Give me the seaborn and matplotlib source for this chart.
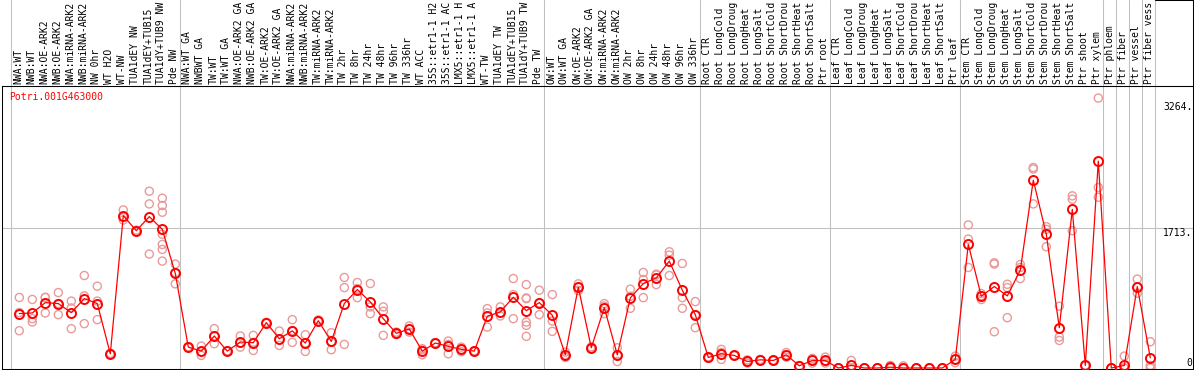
import pandas as pd
import seaborn as sns
import matplotlib.pyplot as plt
import matplotlib.transforms as mtransforms

sns.set_theme(style='white')
plt.rcParams['font.family'] = ['DejaVu Sans Mono', 'DejaVu Sans']

gene = 'Potri.001G463000'

# sample names as far as they are visible in the header
samples = [
    'NWA:WT', 'NWB:WT', 'NWA:OE-ARK2', 'NWB:OE-ARK2', 'NWA:miRNA-ARK2',
    'NWB:miRNA-ARK2', 'NW 0hr', 'WT H2O', 'WT-NW', 'TUA1dEY NW',
    'TUA1dEY+TUB15', 'TUA1dY+TUB9 NW', 'Pde NW',
    'NWA:WT GA', 'NWBWT GA', 'TW:WT', 'TW:WT GA', 'NWA:OE-ARK2 GA',
    'NWB:OE-ARK2 GA', 'TW:OE-ARK2', 'TW:OE-ARK2 GA', 'NWA:miRNA-ARK2',
    'NWB:miRNA-ARK2', 'TW:miRNA-ARK2', 'TW:miRNA-ARK2', 'TW 2hr', 'TW 8hr',
    'TW 24hr', 'TW 48hr', 'TW 96hr', 'TW 336hr', 'WT ACC', '35S::etr1-1 H2',
    '35S::etr1-1 AC', 'LMX5::etr1-1 H', 'LMX5::etr1-1 A', 'WT-TW',
    'TUA1dEY TW', 'TUA1dEY+TUB15', 'TUA1dY+TUB9 TW', 'Pde TW',
    'OW:WT', 'OW:WT GA', 'OW:OE-ARK2', 'OW:OE-ARK2 GA', 'OW:miRNA-ARK2',
    'OW:miRNA-ARK2', 'OW 2hr', 'OW 8hr', 'OW 24hr', 'OW 48hr', 'OW 96hr',
    'OW 336hr',
    'Root CTR', 'Root LongCold', 'Root LongDroug', 'Root LongHeat',
    'Root LongSalt', 'Root ShortCold', 'Root ShortDrou', 'Root ShortHeat',
    'Root ShortSalt', 'Ptr root',
    'Leaf CTR', 'Leaf LongCold', 'Leaf LongDroug', 'Leaf LongHeat',
    'Leaf LongSalt', 'Leaf ShortCold', 'Leaf ShortDrou', 'Leaf ShortHeat',
    'Leaf ShortSalt', 'Ptr leaf',
    'Stem CTR', 'Stem LongCold', 'Stem LongDroug', 'Stem LongHeat',
    'Stem LongSalt', 'Stem ShortCold', 'Stem ShortDrou', 'Stem ShortHeat',
    'Stem ShortSalt', 'Ptr shoot', 'Ptr xylem',
    'Ptr phloem', 'Ptr fiber', 'Ptr vessel', 'Ptr fiber vess',
]

# first sample index of every group (last entry = end)
group_starts = [0, 13, 41, 53, 63, 73, 84, 85, 86, 87, 88]

means = [
    667, 675, 802, 790, 679, 851, 790, 174, 1868, 1684, 1856, 1700, 1159,
    256, 207, 392, 207, 319, 310, 556, 359, 455, 306, 580, 326, 790, 962,
    810, 605, 425, 478, 207, 306, 265, 228, 207, 635, 687, 868, 703, 802,
    646, 162, 990, 248, 740, 162, 859, 1036, 1105, 1311, 954, 654,
    129, 174, 154, 80, 100, 92, 162, 27, 92, 92,
    0, 31, 0, 0, 10, 0, 0, 0, 0, 105,
    1516, 880, 999, 884, 1200, 2303, 1639, 494, 1946, 31, 2537,
    0, 31, 999, 125,
]

replicates = [
    [865, 680, 457], [840, 605, 564], [865, 866, 675], [925, 790, 654],
    [820, 736, 482], [1134, 884, 544], [1003, 820, 593], [180, 170, 172],
    [1938, 1815, 1850], [1684, 1690, 1680], [2168, 2012, 1397],
    [2082, 1992, 1910, 1639, 1515, 1454, 1311], [1274, 1032, 1170],
    [256, 262, 250], [269, 154, 200], [482, 298, 396], [207, 210, 204],
    [392, 256, 310], [400, 215, 315], [556, 560, 552], [453, 277, 347],
    [593, 314, 458], [408, 203, 306], [580, 590, 570], [433, 224, 320],
    [1110, 986, 289], [1048, 863, 975], [1036, 749, 667], [749, 696, 400],
    [425, 440, 410], [515, 478, 440], [162, 236, 223], [306, 310, 300],
    [330, 174, 290], [256, 228, 200], [207, 210, 204], [728, 502, 675],
    [749, 638, 674], [1097, 605, 900], [1023, 859, 850, 564, 523, 388],
    [954, 654, 798],
    [900, 576, 449], [195, 162, 130], [1032, 990, 950], [260, 240, 245],
    [790, 667, 760], [248, 80, 160], [966, 732, 880], [1171, 1085, 863],
    [1150, 1023, 1140], [1425, 1384, 1134], [1282, 863, 732], [814, 494, 654],
    [129, 120, 138], [228, 105, 190], [154, 150, 158], [100, 60, 80],
    [100, 95, 105], [92, 88, 96], [133, 162, 190], [27, 25, 30],
    [118, 60, 98], [133, 60, 83],
    [0, 0, 0], [92, 0, 0], [0, 0, 0], [0, 0, 0], [31, 0, 0], [26, 0, 0],
    [0, 0, 0], [0, 0, 0], [0, 0, 0], [146, 105, 64],
    [1754, 1581, 1233], [913, 840, 886], [1290, 1275, 445], [1027, 986, 617],
    [1270, 1097, 1233], [2459, 2440, 2012], [1733, 1700, 1487],
    [757, 379, 338], [2111, 2070, 1684], [31, 31, 31], [3310, 2213, 2094],
    [0, 0, 0], [146, 0, 0], [1090, 917, 990], [322, 31, 0],
]

y_ticks = [3264, 1713, 0]
y_ticklabels = ['3264.', '1713.', '0']

idx = list(range(len(samples)))
mean_df = pd.DataFrame({'idx': idx, 'value': means})
rep_df = pd.DataFrame([(i, v) for i, reps in enumerate(replicates) for v in reps],
                      columns=['idx', 'value'])

W, H = 1194, 370
fig = plt.figure(figsize=(W / 100, H / 100), dpi=100)
left = 1.5 / W
width = (1193 - 1.5) / W
ax = fig.add_axes([left, 1 / H, width, (369 - 86) / H])
axh = fig.add_axes([left, (H - 86) / H, width, 86 / H])

xmin = -17.8 / 13
xmax = xmin + (1193 - 1.5) / 13
ymin, ymax = -12.3, 3458

grey = '#c0c0c0'
line_w = 0.75

# replicate circles
sns.scatterplot(data=rep_df, x='idx', y='value', ax=ax, marker='o', s=34,
                color='#ea9a9a', linewidth=1.0, legend=False, zorder=2)
ax.collections[-1].set_facecolor('none')
ax.collections[-1].set_edgecolor('#ea9a9a')

# mean line
sns.lineplot(data=mean_df, x='idx', y='value', ax=ax, color='red', lw=0.9,
             marker='o', markersize=6.5, markerfacecolor='none',
             markeredgecolor='red', markeredgewidth=1.4, zorder=3)

for s in group_starts:
    ax.axvline(s - 0.65, color=grey, lw=line_w, zorder=1)
    axh.axvline(s - 0.65, color=grey, lw=line_w, zorder=1)
ax.axhline(1713, color=grey, lw=line_w, zorder=1)

ax.set_xlim(xmin, xmax)
ax.set_ylim(ymin, ymax)
ax.set_xticks([])
ax.set_yticks([])
ax.set_xlabel('')
ax.set_ylabel('')
for sp in ax.spines.values():
    sp.set_visible(True)
    sp.set_color('black')
    sp.set_linewidth(line_w)

trans = mtransforms.blended_transform_factory(ax.transAxes, ax.transData)
for v, lab in zip(y_ticks, y_ticklabels):
    ax.text(0.9995, v, lab, transform=trans, ha='right',
            va='bottom' if v == 0 else 'top', fontsize=7, color='black')

ax.text(7.5 / (1193 - 1.5), 1 - 6 / 283, gene, transform=ax.transAxes,
        ha='left', va='top', fontsize=7, color='red')

# header with rotated sample names
axh.set_xlim(xmin, xmax)
axh.set_ylim(0, 1)
axh.set_xticks([])
axh.set_yticks([])
axh.patch.set_alpha(0)
for name in ['left', 'top']:
    axh.spines[name].set_visible(False)
for name in ['right', 'bottom']:
    axh.spines[name].set_visible(True)
    axh.spines[name].set_color('black')
    axh.spines[name].set_linewidth(line_w)
axh.plot([group_starts[-1] - 0.65, xmax], [1, 1], color='black', lw=line_w,
         clip_on=False)

htrans = mtransforms.blended_transform_factory(axh.transData, axh.transAxes)
for i, name in enumerate(samples):
    axh.text(i - 0.08, 2.5 / 86, name, transform=htrans, rotation=90,
             ha='center', va='bottom', fontsize=7, color='black', clip_on=True)

fig.savefig('out.png', dpi=100)
